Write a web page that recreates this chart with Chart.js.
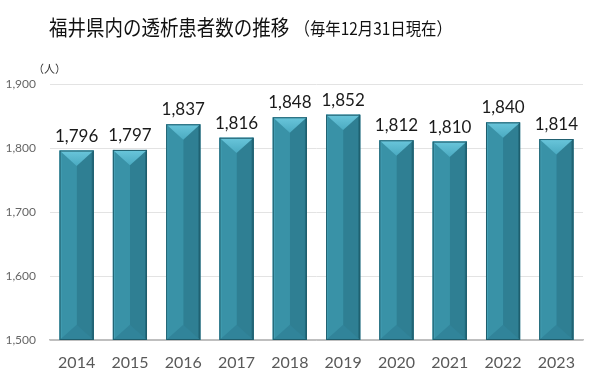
<!DOCTYPE html>
<html>
<head>
<meta charset="utf-8">
<script src="https://cdn.jsdelivr.net/npm/chart.js@4"></script>
<style>
  body { margin: 0; background: #fff; }
  #wrap { position: relative; width: 600px; height: 384px; }
  #title { position: absolute; left: 49px; top: 11px; font-family: "Noto Sans CJK JP"; color: #111; white-space: nowrap;
           transform: scaleX(0.88); transform-origin: left top; }
  #title .main { font-size: 21px; }
  #title .sub { font-size: 17.5px; margin-left: 6px; }
  #unit { position: absolute; left: 33px; top: 60px; font-family: "Noto Sans CJK JP"; font-size: 11px; color: #333; }
</style>
</head>
<body>
<div id="wrap">
  <canvas id="dialysisChart" width="600" height="384"></canvas>
  <div id="title"><span class="main">福井県内の透析患者数の推移</span><span class="sub">（毎年12月31日現在）</span></div>
  <div id="unit">（人）</div>
</div>
<script>
// 透析患者数 (each year, Dec 31)
const years = ['2014', '2015', '2016', '2017', '2018', '2019', '2020', '2021', '2022', '2023'];
const patients = [1796, 1797, 1837, 1816, 1848, 1852, 1812, 1810, 1840, 1814];
const yTicks = [1500, 1600, 1700, 1800, 1900];

// bevel look for the bars + value labels
const bevelBars = {
    id: 'bevelBars',
    afterDatasetsDraw(chart) {
        const ctx = chart.ctx;
        const area = chart.chartArea;
        const meta = chart.getDatasetMeta(0);
        meta.data.forEach((bar, i) => {
            const w = bar.width;
            const l = bar.x - w / 2, r = bar.x + w / 2;
            const t = bar.y, b = Math.min(bar.base, area.bottom);
            const cx = bar.x;
            const d = w / 2 * 0.9;
            ctx.save();
            // right half darker
            ctx.fillStyle = '#2f7f93';
            ctx.fillRect(cx, t, r - cx, b - t);
            // left half
            ctx.fillStyle = '#3992a7';
            ctx.fillRect(l, t, cx - l, b - t);
            // thin edge strips
            ctx.fillStyle = '#44a0b5';
            ctx.fillRect(l, t, 2, b - t);
            ctx.fillStyle = '#236b7d';
            ctx.fillRect(r - 2, t, 2, b - t);
            // bottom triangle
            ctx.beginPath();
            ctx.moveTo(l, b); ctx.lineTo(cx, b - d); ctx.lineTo(r, b); ctx.closePath();
            ctx.fillStyle = '#31849a';
            ctx.fill();
            // top triangle, light
            const g = ctx.createLinearGradient(0, t, 0, t + d);
            g.addColorStop(0, '#6ac6db');
            g.addColorStop(1, '#4aaac1');
            ctx.beginPath();
            ctx.moveTo(l, t); ctx.lineTo(r, t); ctx.lineTo(cx, t + d); ctx.closePath();
            ctx.fillStyle = g;
            ctx.fill();
            // outline
            ctx.strokeStyle = '#1f5d6c';
            ctx.lineWidth = 1;
            ctx.strokeRect(l + 0.5, t + 0.5, w - 1, b - t - 1);
            // value label
            ctx.fillStyle = '#1a1a1a';
            ctx.font = '17px Lato';
            ctx.textAlign = 'center';
            ctx.textBaseline = 'bottom';
            ctx.fillText(patients[i].toLocaleString('en-US'), cx, t - 6);
            ctx.restore();
        });
    }
};

const ctx = document.getElementById('dialysisChart').getContext('2d');

new Chart(ctx, {
    type: 'bar',
    data: {
        labels: years,
        datasets: [{
            label: '透析患者数',
            data: patients,
            backgroundColor: '#3891a6',
            barPercentage: 0.64,
            categoryPercentage: 1.0,
        }]
    },
    options: {
        responsive: false,
        animation: false,
        layout: { padding: { top: 84, right: 17, left: 0, bottom: 0 } },
        plugins: {
            legend: { display: false },
            tooltip: { enabled: false }
        },
        scales: {
            x: {
                grid: { display: false },
                border: { color: '#bfbfbf', width: 1.5 },
                ticks: { color: '#595959', font: { family: 'Lato', size: 16 }, padding: 5 },
                afterFit(scale) { scale.height = 44; }
            },
            y: {
                min: yTicks[0],
                max: yTicks[yTicks.length - 1],
                afterBuildTicks(scale) { scale.ticks = yTicks.map(v => ({ value: v })); },
                grid: {
                    color: c => c.tick && c.tick.value === 1500 ? '#bfbfbf' : '#e3e3e3',
                    drawTicks: false
                },
                border: { display: false },
                ticks: {
                    color: '#666666',
                    font: { family: 'Lato', size: 12 },
                    padding: 14,
                    callback: v => v.toLocaleString('en-US')
                },
                afterFit(scale) { scale.width = 50; }
            }
        }
    },
    plugins: [bevelBars]
});
</script>
</body>
</html>
